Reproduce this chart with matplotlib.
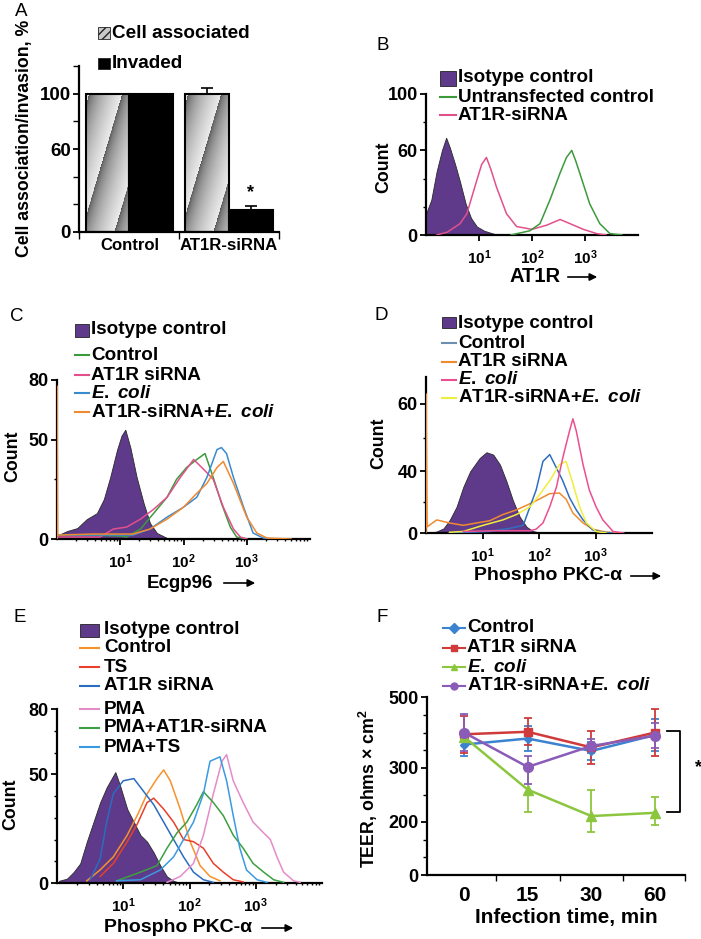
import numpy as np
import matplotlib
matplotlib.use("Agg")
import matplotlib.pyplot as plt
from matplotlib.patches import Rectangle, FancyArrowPatch
from matplotlib.lines import Line2D
from matplotlib.ticker import FixedLocator, NullFormatter

plt.rcParams['font.family'] = ['Liberation Sans', 'DejaVu Sans']
plt.rcParams['font.weight'] = 'bold'
plt.rcParams['mathtext.fontset'] = 'custom'
plt.rcParams['mathtext.rm'] = 'Liberation Sans:bold'
plt.rcParams['mathtext.bf'] = 'Liberation Sans:bold'
plt.rcParams['mathtext.it'] = 'Liberation Sans:italic:bold'

# ---------------- data ----------------
# A: cell association / invasion (%)
groups_a = ['Control', 'AT1R-siRNA']
assoc = [100, 100]
assoc_err = [0, 4]
invaded = [100, 16]
invaded_err = [0, 3]

# B: AT1R histograms (log10 fluorescence, count)
b_iso_x = [0.0, 0.1, 0.2, 0.3, 0.38, 0.45, 0.55, 0.64, 0.75, 0.85, 0.96, 1.1, 1.27, 1.4]
b_iso_y = [15, 25, 45, 60, 69, 62, 50, 38, 22, 12, 6, 3, 1, 0]
b_untr_x = [1.6, 1.96, 2.15, 2.34, 2.53, 2.65, 2.75, 2.83, 2.9, 3.09, 3.28, 3.47, 3.7]
b_untr_y = [0, 3, 8, 25, 44, 55, 60, 52, 44, 22, 8, 1, 0]
b_sirna_x = [0.2, 0.4, 0.64, 0.77, 0.96, 1.05, 1.14, 1.22, 1.33, 1.52, 1.71, 2.0, 2.28, 2.53, 2.72, 2.97, 3.22, 3.4]
b_sirna_y = [0, 2, 8, 15, 39, 50, 55, 47, 34, 15, 6, 4, 7, 11, 8, 4, 1, 0]

# C: Ecgp96 histograms
c_iso_x = [0.02, 0.16, 0.32, 0.47, 0.63, 0.74, 0.84, 0.95, 1.02, 1.08, 1.16, 1.26, 1.37, 1.47, 1.58, 1.74, 1.85]
c_iso_y = [2, 4, 5.5, 10, 13, 20, 31, 45, 52, 55, 46, 31, 18, 8, 3, 0.5, 0]
c_ctrl_x = [0.0, 0.5, 1.0, 1.1, 1.32, 1.53, 1.74, 1.89, 2.05, 2.21, 2.34, 2.47, 2.6, 2.74, 2.84, 3.0]
c_ctrl_y = [2, 2, 1.5, 1, 5, 13, 21, 30, 36, 40, 43, 31, 18, 6, 1, 0]
c_sirna_x = [0.0, 0.68, 0.89, 1.1, 1.32, 1.53, 1.74, 1.95, 2.16, 2.32, 2.47, 2.63, 2.79, 2.9, 3.0]
c_sirna_y = [1, 1, 5, 6, 10, 15, 21, 31, 40, 35, 30, 16, 5, 1, 0]
c_ecoli_x = [0.0, 0.6, 1.2, 1.47, 1.74, 2.0, 2.21, 2.37, 2.53, 2.6, 2.68, 2.79, 2.95, 3.1, 3.26, 3.4]
c_ecoli_y = [2, 2, 2, 5, 11, 16, 21, 31, 45, 46, 43, 31, 16, 3, 0.5, 0]
c_both_x = [0.0, 0.0, 0.01, 0.6, 1.2, 1.47, 1.74, 2.0, 2.21, 2.37, 2.53, 2.63, 2.79, 3.0, 3.16, 3.32, 3.7]
c_both_y = [0, 77, 2, 2.5, 2.5, 5, 10, 16, 23, 28, 36, 39, 28, 11, 3, 0.5, 0]

# D: phospho PKC-alpha histograms
d_iso_x = [0.07, 0.19, 0.31, 0.42, 0.54, 0.66, 0.78, 0.95, 1.07, 1.19, 1.31, 1.42, 1.54, 1.66, 1.78, 1.89, 2.05]
d_iso_y = [0, 1, 3, 8.5, 17, 30, 40, 44, 45.7, 45, 42, 34, 21, 10.5, 4, 1.3, 0]
d_ctrl_x = [0.4, 0.78, 1.13, 1.48, 1.72, 1.84, 1.95, 2.07, 2.19, 2.31, 2.42, 2.54, 2.66, 2.78, 2.95, 3.13, 3.3]
d_ctrl_y = [0, 0.5, 1, 3, 5, 17, 28, 43, 45, 41, 34, 23, 15, 8.5, 2, 0.5, 0]
d_sirna_x = [0.0, 0.0, 0.02, 0.19, 0.42, 0.66, 0.89, 1.13, 1.36, 1.6, 1.78, 1.95, 2.19, 2.36, 2.48, 2.6, 2.78, 2.95, 3.19, 3.4]
d_sirna_y = [0, 63, 4, 8.5, 6.5, 5, 6.5, 8, 12, 15, 18, 21, 25.6, 26, 22, 13, 6.5, 2.5, 0.5, 0]
d_ecoli_x = [0.66, 1.2, 1.84, 1.95, 2.07, 2.19, 2.31, 2.42, 2.54, 2.6, 2.66, 2.78, 2.89, 3.01, 3.13, 3.31, 3.5]
d_ecoli_y = [1, 1.5, 1.5, 2.5, 6.5, 17, 30, 44, 52, 55.6, 52, 42, 28, 17, 8.5, 1, 0]
d_both_x = [0.42, 0.66, 1.01, 1.36, 1.6, 1.84, 2.01, 2.19, 2.36, 2.48, 2.6, 2.72, 2.84, 3.01, 3.19]
d_both_y = [0.5, 1, 5, 8.5, 12, 17, 25, 34, 42, 43, 32, 17, 6.5, 1, 0]

# E: phospho PKC-alpha histograms with PMA / TS
e_iso_x = [0.03, 0.15, 0.25, 0.35, 0.45, 0.55, 0.65, 0.75, 0.88, 0.95, 1.06, 1.16, 1.26, 1.36, 1.46, 1.56, 1.66, 1.76, 1.86]
e_iso_y = [1, 2, 5, 9, 19, 28, 37, 44, 51, 45, 34, 28, 22, 19, 14, 8, 3, 1, 0]
e_ctrl_x = [0.45, 0.65, 0.85, 1.06, 1.21, 1.36, 1.51, 1.61, 1.71, 1.86, 2.01, 2.16, 2.31, 2.46]
e_ctrl_y = [1, 6, 12, 22, 31, 41, 48, 52, 47, 34, 19, 8, 3, 1]
e_ts_x = [0.65, 0.85, 1.06, 1.21, 1.36, 1.46, 1.61, 1.76, 1.91, 2.06, 2.21, 2.36, 2.51, 2.66, 2.81]
e_ts_y = [3, 9, 19, 27, 37, 39, 34, 28, 20, 19, 16, 9, 5, 1.5, 0.5]
e_sirna_x = [0.5, 0.65, 0.75, 0.85, 1.0, 1.16, 1.31, 1.46, 1.61, 1.76, 1.91, 2.06, 2.21, 2.36]
e_sirna_y = [1.5, 11, 28, 41, 47, 48, 42, 36, 28, 20, 12, 5, 1.5, 0.3]
e_pma_x = [1.66, 1.86, 2.06, 2.21, 2.36, 2.49, 2.56, 2.66, 2.81, 2.96, 3.12, 3.22, 3.32, 3.42, 3.57, 3.67]
e_pma_y = [0.3, 3, 9, 22, 41, 56, 59, 47, 37, 28, 23, 20, 12, 5, 1, 0.3]
e_pmasi_x = [0.9, 1.26, 1.51, 1.66, 1.81, 1.96, 2.11, 2.21, 2.36, 2.51, 2.66, 2.81, 2.96, 3.12, 3.27, 3.42]
e_pmasi_y = [1, 5, 8, 16, 23, 28, 36, 42, 37, 31, 22, 16, 9, 5, 1.5, 0.3]
e_pmats_x = [0.9, 1.26, 1.56, 1.76, 1.91, 2.06, 2.21, 2.31, 2.46, 2.56, 2.66, 2.76, 2.86, 3.02, 3.17]
e_pmats_y = [1, 1.5, 6, 12, 20, 28, 41, 56, 58, 47, 31, 16, 6, 1.5, 0.3]

# F: TEER over time
times = ['0', '15', '30', '60']
teer_ctrl = [366, 383, 348, 393]
teer_ctrl_err = [32, 35, 26, 45]
teer_sirna = [395, 402, 358, 400]
teer_sirna_err = [52, 38, 46, 66]
teer_ecoli = [388, 260, 211, 217]
teer_ecoli_err = [10, 42, 48, 29]
teer_both = [400, 303, 362, 391]
teer_both_err = [52, 32, 20, 35]

PURPLE = '#5f3a8a'
FS = 13.6       # legend text
FS_TICK = 13
FS_LOG = 11
FS_COUNT = 12.8
ECOLI = '$\\mathit{E.}$ $\\mathit{coli}$'

W, H = 701, 939
fig = plt.figure(figsize=(W / 100, H / 100), dpi=100)


def add_ax(l, t, r, b):
    return fig.add_axes([l / W, 1 - b / H, (r - l) / W, (b - t) / H])


def ftext(x, y, s, **kw):
    kw.setdefault('fontsize', FS)
    return fig.text(x / W, 1 - y / H, s, **kw)


def arrow(x0, x1, y):
    fig.add_artist(FancyArrowPatch((x0 / W, 1 - y / H), (x1 / W, 1 - y / H),
                                   transform=fig.transFigure, arrowstyle='-|>',
                                   mutation_scale=11, lw=1.2, color='k'))


def legend(items, xh0, xh1, xt, ys, bh=12):
    for (kind, color, label), y in zip(items, ys):
        if kind in ('box', 'hatch'):
            r = Rectangle((xh0 / W, 1 - (y + bh / 2) / H), (xh1 - xh0) / W, bh / H,
                          transform=fig.transFigure, facecolor=color,
                          edgecolor='#222222', lw=0.6,
                          hatch='////' if kind == 'hatch' else None)
            fig.add_artist(r)
        else:
            mk = None if kind == 'line' else kind
            yy = 1 - y / H
            fig.add_artist(Line2D([xh0 / W, (xh0 + xh1) / 2 / W, xh1 / W], [yy, yy, yy],
                                  transform=fig.transFigure, color=color, lw=1.5,
                                  marker=mk, markevery=[1], ms=5))
        ftext(xt, y, label, ha='left', va='center')


def style(ax, labelsize=FS_TICK):
    for s in ['top', 'right']:
        ax.spines[s].set_visible(False)
    for s in ['left', 'bottom']:
        ax.spines[s].set_linewidth(1.6)
    ax.tick_params(which='major', direction='out', length=4, width=1.3, labelsize=labelsize, pad=2)
    ax.tick_params(which='minor', direction='out', length=2.5, width=1)


def piecewise(vals, pos):
    v = np.array(vals, float)
    p = np.array(pos, float)
    return (lambda x: np.interp(x, v, p)), (lambda y: np.interp(y, p, v))


def hist_axes(ax, iso_x, iso_y, curves):
    ax.set_xscale('log')
    ax.fill_between(10 ** np.array(iso_x), iso_y, color=PURPLE, edgecolor='#2a2a2a', lw=0.6, zorder=2)
    for cx, cy, col in curves:
        ax.plot(10 ** np.array(cx), cy, color=col, lw=1.1, zorder=3)
    ax.set_xlim(1, 1e4)
    ax.set_xticks([10, 100, 1000])
    ax.set_xticklabels(['$10^{1}$', '$10^{2}$', '$10^{3}$'])
    ax.xaxis.set_minor_formatter(NullFormatter())
    style(ax)
    ax.tick_params(axis='x', which='major', labelsize=FS_LOG, pad=6)
    ax.tick_params(axis='x', which='minor', length=1.5)


# ---------------- A ----------------
axA = add_ax(79, 66, 278.5, 232)
pos_a = np.array([0, 2.27])
pos_i = pos_a + 1
for x, h in zip(pos_a, assoc):
    xx, yy = np.meshgrid(np.arange(44), np.arange(137))
    u = ((xx - 0.3 * yy) / 33.0 + 0.15) % 1.0
    axA.imshow(0.3 + 0.62 * np.sqrt(u), extent=(x - 0.5, x + 0.5, 0, h), origin='lower',
               cmap='gray', vmin=0, vmax=1, aspect='auto', zorder=2)
axA.bar(pos_a, assoc, width=1, facecolor='none', edgecolor='k', lw=1.5, zorder=3)
axA.bar(pos_i, invaded, width=1, color='k', edgecolor='k', lw=1.5, zorder=3)
for x, h, e in list(zip(pos_a, assoc, assoc_err)) + list(zip(pos_i, invaded, invaded_err)):
    if e > 0:
        axA.errorbar([x], [h], yerr=[[0], [e]], fmt='none', ecolor='k', capsize=4, elinewidth=1.2, capthick=1.2, zorder=4)
axA.text(pos_i[1], invaded[1] + invaded_err[1] + 3, '*', ha='center', va='bottom', fontsize=13)
axA.set_xlim(-0.65, 3.9)
axA.set_ylim(0, 120)
axA.set_yticks([0, 60, 100])
axA.yaxis.set_minor_locator(FixedLocator([20, 40, 80, 120]))
axA.set_xticks((pos_a + pos_i) / 2)
axA.set_xticklabels(groups_a)
axA.xaxis.set_minor_locator(FixedLocator([-0.65, 1.635, 3.9]))
style(axA, labelsize=13.5)
axA.tick_params(axis='y', which='minor', length=4)
axA.tick_params(axis='x', which='major', length=0, pad=4, labelsize=12.1)
axA.tick_params(axis='x', which='minor', length=5)
ftext(25, 138, 'Cell association/invasion, %', rotation=90, ha='center', va='center', fontsize=12.7)
legend([('hatch', '#c8c8c8', 'Cell associated'), ('box', 'k', 'Invaded')], 98, 110, 112, [33, 63], bh=11)

# ---------------- B ----------------
axB = add_ax(426, 94, 638, 235)
hist_axes(axB, b_iso_x, b_iso_y, [(b_sirna_x, b_sirna_y, '#e2508c'), (b_untr_x, b_untr_y, '#3c9a3c')])
axB.set_ylim(0, 100)
axB.set_yticks([0, 60, 100])
axB.yaxis.set_minor_locator(FixedLocator([20, 40, 80]))
ftext(384, 167, 'Count', rotation=90, ha='center', va='center', fontsize=FS_COUNT)
ftext(535, 277, 'AT1R', ha='center', va='center', fontsize=14.5)
arrow(565, 600, 277)
legend([('box', PURPLE, 'Isotype control'), ('line', '#3c9a3c', 'Untransfected control'),
        ('line', '#e2508c', 'AT1R-siRNA')], 440, 456, 458, [78, 97, 115], bh=15)

# ---------------- C ----------------
axC = add_ax(57, 380, 310, 539)
hist_axes(axC, c_iso_x, c_iso_y, [(c_ctrl_x, c_ctrl_y, '#3c9a3c'), (c_sirna_x, c_sirna_y, '#e2508c'),
                                  (c_ecoli_x, c_ecoli_y, '#3a8ad0'), (c_both_x, c_both_y, '#f08a30')])
axC.set_ylim(0, 80)
axC.set_yticks([0, 50, 80])
axC.yaxis.set_minor_locator(FixedLocator([30]))
ftext(13, 456, 'Count', rotation=90, ha='center', va='center', fontsize=FS_COUNT)
ftext(180, 583, 'Ecgp96', ha='center', va='center', fontsize=13.5)
arrow(221, 258, 583)
legend([('box', PURPLE, 'Isotype control'), ('line', '#3c9a3c', 'Control'),
        ('line', '#e2508c', 'AT1R siRNA'), ('line', '#3a8ad0', ECOLI),
        ('line', '#f08a30', 'AT1R-siRNA+' + ECOLI)],
       75, 89, 91, [330, 355, 375, 393, 412], bh=13)

# ---------------- D ----------------
axD = add_ax(426, 377, 652, 533)
hist_axes(axD, d_iso_x, d_iso_y, [(d_sirna_x, d_sirna_y, '#f08a30'), (d_ctrl_x, d_ctrl_y, '#2f6fc0'),
                                  (d_both_x, d_both_y, '#f0ee3c'), (d_ecoli_x, d_ecoli_y, '#ec4f90')])
axD.set_yscale('function', functions=piecewise([-100, 0, 40, 60, 200], [-155, 0, 62, 130, 606]))
axD.set_ylim(0, 68)
axD.set_yticks([0, 40, 60])
axD.set_yticklabels(['0', '40', '60'])
axD.yaxis.set_minor_locator(FixedLocator([20, 50]))
axD.yaxis.set_minor_formatter(NullFormatter())
ftext(379, 443, 'Count', rotation=90, ha='center', va='center', fontsize=FS_COUNT)
ftext(548, 576, 'Phospho PKC-α', ha='center', va='center', fontsize=14)
arrow(628, 664, 576)
legend([('box', PURPLE, 'Isotype control'), ('line', '#6a8fb0', 'Control'),
        ('line', '#f08a30', 'AT1R siRNA'), ('line', '#ec4f90', ECOLI),
        ('line', '#f0ee3c', 'AT1R-siRNA+' + ECOLI)],
       442, 456, 458, [323, 343, 362, 380, 398], bh=11)

# ---------------- E ----------------
axE = add_ax(57, 709, 322, 883)
hist_axes(axE, e_iso_x, e_iso_y, [(e_ctrl_x, e_ctrl_y, '#f7922b'), (e_ts_x, e_ts_y, '#e8402a'),
                                  (e_sirna_x, e_sirna_y, '#2a6cc0'), (e_pma_x, e_pma_y, '#e58cc8'),
                                  (e_pmasi_x, e_pmasi_y, '#3aa040'), (e_pmats_x, e_pmats_y, '#3a9ae0')])
axE.set_ylim(0, 80)
axE.set_yticks([0, 50, 80])
axE.yaxis.set_minor_locator(FixedLocator([10, 20, 30, 40, 60, 70]))
ftext(11, 804, 'Count', rotation=90, ha='center', va='center', fontsize=FS_COUNT)
ftext(178, 928, 'Phospho PKC-α', ha='center', va='center', fontsize=14)
arrow(259, 296, 928)
legend([('box', PURPLE, 'Isotype control'), ('line', '#f7922b', 'Control'),
        ('line', '#e8402a', 'TS'), ('line', '#2a6cc0', 'AT1R siRNA'),
        ('line', '#e58cc8', 'PMA'), ('line', '#3aa040', 'PMA+AT1R-siRNA'),
        ('line', '#3a9ae0', 'PMA+TS')],
       80, 99, 104, [630, 648, 667, 686, 709, 728, 747], bh=13)

# ---------------- F ----------------
axF = add_ax(427, 697, 685, 875)
axF.set_yscale('function', functions=piecewise([-1000, 0, 200, 300, 500, 2000],
                                               [-265, 0, 53, 107, 178, 710.5]))
xf = np.arange(len(times))
series_f = [(teer_ctrl, teer_ctrl_err, '#3b82d0', 'D', 4.5),
            (teer_sirna, teer_sirna_err, '#d03a3a', 's', 6),
            (teer_ecoli, teer_ecoli_err, '#8cc63f', '^', 6.5),
            (teer_both, teer_both_err, '#8a5cb8', 'o', 7)]
for vals, err, col, mk, ms in series_f:
    axF.errorbar(xf, vals, yerr=err, color=col, marker=mk, ms=ms, lw=1.8,
                 elinewidth=1.3, capsize=3, capthick=1.3)
axF.plot([3.18, 3.39, 3.39, 3.18], [405, 405, 218, 218], color='k', lw=1.3, clip_on=False)
axF.text(3.68, 302, '*', ha='center', va='center', fontsize=13, clip_on=False)
axF.set_xlim(-0.58, 3.47)
axF.set_ylim(0, 500)
axF.set_xticks(xf)
axF.set_xticklabels(times)
axF.xaxis.set_minor_locator(FixedLocator([0.5, 1.5, 2.5, 3.47]))
axF.set_yticks([0, 200, 300, 500])
axF.set_yticklabels(['0', '200', '300', '500'])
axF.yaxis.set_minor_locator(FixedLocator([66.7, 133.3, 250, 350, 400, 450]))
axF.yaxis.set_minor_formatter(NullFormatter())
style(axF)
axF.tick_params(axis='x', which='major', length=0, pad=8, labelsize=15)
axF.tick_params(axis='x', which='minor', length=4)
axF.tick_params(axis='y', which='minor', length=3)
ftext(368, 789, 'TEER, ohms × cm$^{2}$', rotation=90, ha='center', va='center', fontsize=12.8)
ftext(566, 917, 'Infection time, min', ha='center', va='center', fontsize=14.9)
legend([('D', '#3b82d0', 'Control'), ('s', '#d03a3a', 'AT1R siRNA'),
        ('^', '#8cc63f', ECOLI), ('o', '#8a5cb8', 'AT1R-siRNA+' + ECOLI)],
       443, 465, 467, [628, 648, 667, 686])

# panel letters
for letter, (x, y) in zip('ABCDEF', [(15, 12), (377, 45), (10, 316), (375, 315), (13, 617), (377, 617)]):
    ftext(x, y, letter, fontsize=13.5, fontweight='normal', ha='left', va='center')

fig.savefig('out.png', dpi=100)
